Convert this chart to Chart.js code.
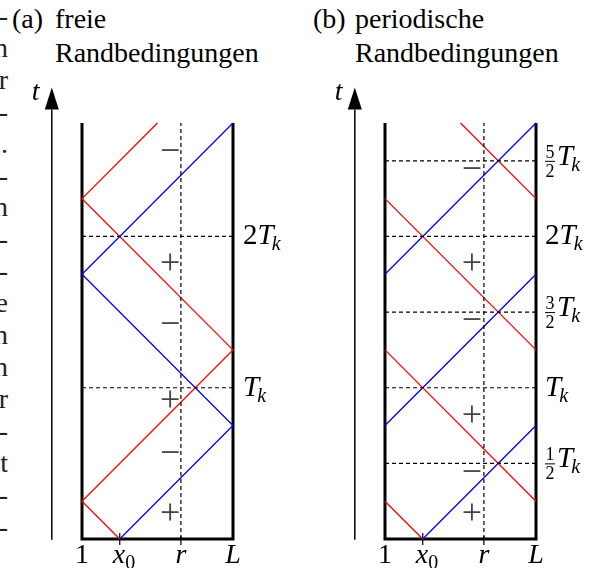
<!DOCTYPE html>
<html lang="de">
  <head>
    <meta charset="UTF-8" />
    <script src="https://cdn.jsdelivr.net/npm/chart.js"></script>
    <title>freie und periodische Randbedingungen</title>
    <style>
      * {
        padding: 0;
        margin: 0;
        box-sizing: border-box;
      }
      body {
        width: 592px;
        height: 568px;
        overflow: hidden;
        background: #fff;
        position: relative;
        font-family: 'Liberation Serif', 'DejaVu Serif', serif;
        color: #000;
      }
      canvas {
        position: absolute;
        top: 0;
      }
      #chartA {
        left: 0;
      }
      #chartB {
        left: 303px;
      }
      .title {
        position: absolute;
        top: 2px;
        font-size: 28px;
        line-height: 34px;
        white-space: nowrap;
      }
      /* line ends of the neighbouring text column, cut at the page edge */
      .margin-text {
        position: absolute;
        left: -40px;
        top: 0;
        width: 48px;
        text-align: right;
        font-size: 28px;
        line-height: 31.9px;
        color: #222;
      }
    </style>
  </head>
  <body>
    <div class="margin-text">-<br />n<br />r<br />-<br />.<br />-<br />n<br />-<br />-<br />e<br />n<br />n<br />r<br />-<br />t<br />-<br />-</div>
    <div class="title" style="left: 12px">(a)</div>
    <div class="title" style="left: 55px">freie<br />Randbedingungen</div>
    <div class="title" style="left: 313px">(b)</div>
    <div class="title" style="left: 355px">periodische<br />Randbedingungen</div>

    <canvas id="chartA" width="289" height="568"></canvas>
    <canvas id="chartB" width="289" height="568"></canvas>

    <script>
      // x in units of the box width (1 ... L), t in units of T_k
      const tickPos = [0, 0.25, 0.655, 1];
      const tickLabels = ['1', 'x_0', 'r', 'L'];
      const tMax = 2.75;

      // (a) freie Randbedingungen: reflection points
      const freeRedX = [0.25, 0, 1, 0, 0.5];
      const freeRedT = [0, 0.25, 1.25, 2.25, 2.75];
      const freeBlueX = [0.25, 1, 0, 1];
      const freeBlueT = [0, 0.75, 1.75, 2.75];
      const freeLevels = [1, 2];
      const freeLevelLabels = ['T_k', '2T_k'];
      const freeSignT = [0.166, 0.563, 0.914, 1.417, 1.821, 2.563];
      const freeSigns = ['+', '−', '+', '−', '+', '−'];

      // (b) periodische Randbedingungen: null = wrap around
      const perRedX = [0.25, 0, null, 1, 0, null, 1, 0, null, 1, 0.5];
      const perRedT = [0, 0.25, null, 0.25, 1.25, null, 1.25, 2.25, null, 2.25, 2.75];
      const perBlueX = [0.25, 1, null, 0, 1, null, 0, 1];
      const perBlueT = [0, 0.75, null, 0.75, 1.75, null, 1.75, 2.75];
      const perLevels = [0.5, 1, 1.5, 2, 2.5];
      const perLevelLabels = ['1/2T_k', 'T_k', '3/2T_k', '2T_k', '5/2T_k'];
      const perSignT = [0.166, 0.437, 0.815, 1.444, 1.821, 2.444];
      const perSigns = ['+', '−', '+', '−', '+', '−'];

      const signX = [0.583, 0.576];

      const SERIF = "'Liberation Serif', 'DejaVu Serif', serif";

      function pts(xs, ts) {
        return xs.map((x, i) => (x === null ? { x: null, y: null } : { x: x, y: ts[i] }));
      }

      function line(data, color, width, dash) {
        return {
          data: data,
          showLine: true,
          borderColor: color,
          borderWidth: width,
          borderDash: dash || [],
          pointRadius: 0,
          spanGaps: false,
          clip: false,
          borderCapStyle: 'butt',
          borderJoinStyle: 'miter',
        };
      }

      function datasets(redX, redT, blueX, blueT, levels) {
        const ds = [];
        levels.forEach((lv) => {
          ds.push(line([{ x: 0, y: lv }, { x: 1, y: lv }], '#000', 1.2, [4, 3]));
        });
        ds.push(line([{ x: tickPos[2], y: 0 }, { x: tickPos[2], y: tMax }], '#000', 1.2, [4, 3]));
        ds.push(line(pts(redX, redT), '#ff0000', 1.3));
        ds.push(line(pts(blueX, blueT), '#0000ff', 1.3));
        // ticks at x0 and r
        ds.push(
          line(
            [
              { x: tickPos[1], y: -0.04 },
              { x: tickPos[1], y: 0.04 },
              { x: null, y: null },
              { x: tickPos[2], y: -0.04 },
              { x: tickPos[2], y: 0.02 },
            ],
            '#000',
            1.2
          )
        );
        // walls and bottom
        ds.push(
          line(
            [
              { x: 0, y: tMax },
              { x: 0, y: 0 },
              { x: 1, y: 0 },
              { x: 1, y: tMax },
            ],
            '#000',
            3
          )
        );
        return ds;
      }

      // T_k style labels, optional fraction in front
      function drawLevel(ctx, x, y, lab) {
        const m = lab.match(/^(?:(\d)\/(\d))?(\d?)T_k$/);
        let cx = x;
        let base = y + 8;
        ctx.textAlign = 'left';
        ctx.textBaseline = 'alphabetic';
        if (m[1]) {
          base = y + 4;
          ctx.font = '18px ' + SERIF;
          ctx.textAlign = 'center';
          ctx.fillText(m[1], cx + 5, y - 3);
          ctx.fillText(m[2], cx + 5, y + 16);
          ctx.fillRect(cx, y, 10, 1);
          ctx.textAlign = 'left';
          cx += 12;
        }
        if (m[3]) {
          ctx.font = '29px ' + SERIF;
          ctx.fillText(m[3], cx, base);
          cx += ctx.measureText(m[3]).width;
        }
        ctx.font = 'italic 29px ' + SERIF;
        ctx.fillText('T', cx, base);
        cx += ctx.measureText('T').width - 2;
        ctx.font = 'italic 20px ' + SERIF;
        ctx.fillText('k', cx, base + 6);
      }

      function drawTick(ctx, x, base, lab) {
        ctx.textBaseline = 'alphabetic';
        if (lab === '1') {
          ctx.font = '28px ' + SERIF;
          ctx.textAlign = 'center';
          ctx.fillText('1', x, base);
        } else if (lab === 'x_0') {
          ctx.font = 'italic 28px ' + SERIF;
          ctx.textAlign = 'left';
          ctx.fillText('x', x - 7, base);
          const w = ctx.measureText('x').width;
          ctx.font = '20px ' + SERIF;
          ctx.fillText('0', x - 7 + w, base + 6);
        } else {
          ctx.font = 'italic 28px ' + SERIF;
          ctx.textAlign = 'center';
          ctx.fillText(lab, x, base);
        }
      }

      function decor(levels, levelLabels, signT, signs, sx, labelGap) {
        return {
          id: 'decor',
          afterDraw(chart) {
            const ctx = chart.ctx;
            const xs = chart.scales.x;
            const ys = chart.scales.y;
            ctx.save();
            ctx.fillStyle = '#000';
            ctx.strokeStyle = '#111';

            // time axis with arrow
            const ax = xs.getPixelForValue(-0.2);
            const yBot = ys.getPixelForValue(-0.005);
            const yTip = ys.getPixelForValue(2.985);
            const yHead = ys.getPixelForValue(2.84);
            ctx.lineWidth = 1.6;
            ctx.beginPath();
            ctx.moveTo(ax, yBot);
            ctx.lineTo(ax, yHead);
            ctx.stroke();
            ctx.beginPath();
            ctx.moveTo(ax, yTip);
            ctx.lineTo(ax - 7, yHead);
            ctx.lineTo(ax + 7, yHead);
            ctx.closePath();
            ctx.fill();
            ctx.font = 'italic 28px ' + SERIF;
            ctx.textAlign = 'left';
            ctx.textBaseline = 'alphabetic';
            ctx.fillText('t', ax - 20, yTip + 13);

            // level labels on the right
            const rx = xs.getPixelForValue(1) + labelGap;
            levels.forEach((lv, i) => {
              drawLevel(ctx, rx, ys.getPixelForValue(lv), levelLabels[i]);
            });

            // bottom tick labels
            tickPos.forEach((p, i) => {
              drawTick(ctx, xs.getPixelForValue(p), 563, tickLabels[i]);
            });

            // signs left of r
            ctx.fillStyle = '#444';
            ctx.font = '36px ' + SERIF;
            ctx.textAlign = 'center';
            ctx.textBaseline = 'middle';
            signT.forEach((t, i) => {
              ctx.fillText(signs[i], xs.getPixelForValue(sx), ys.getPixelForValue(t) + 1);
            });
            ctx.restore();
          },
        };
      }

      function makeChart(id, ds, plugin) {
        return new Chart(document.getElementById(id), {
          type: 'scatter',
          data: { datasets: ds },
          options: {
            responsive: false,
            animation: false,
            devicePixelRatio: 1,
            events: [],
            layout: { padding: { left: 82, right: 56, top: 123, bottom: 29 } },
            scales: {
              x: { type: 'linear', min: 0, max: 1, display: false },
              y: { type: 'linear', min: 0, max: tMax, display: false },
            },
            plugins: { legend: { display: false }, tooltip: { enabled: false } },
          },
          plugins: [plugin],
        });
      }

      const chartA = makeChart(
        'chartA',
        datasets(freeRedX, freeRedT, freeBlueX, freeBlueT, freeLevels),
        decor(freeLevels, freeLevelLabels, freeSignT, freeSigns, signX[0], 10)
      );
      const chartB = makeChart(
        'chartB',
        datasets(perRedX, perRedT, perBlueX, perBlueT, perLevels),
        decor(perLevels, perLevelLabels, perSignT, perSigns, signX[1], 9)
      );
    </script>
  </body>
</html>
